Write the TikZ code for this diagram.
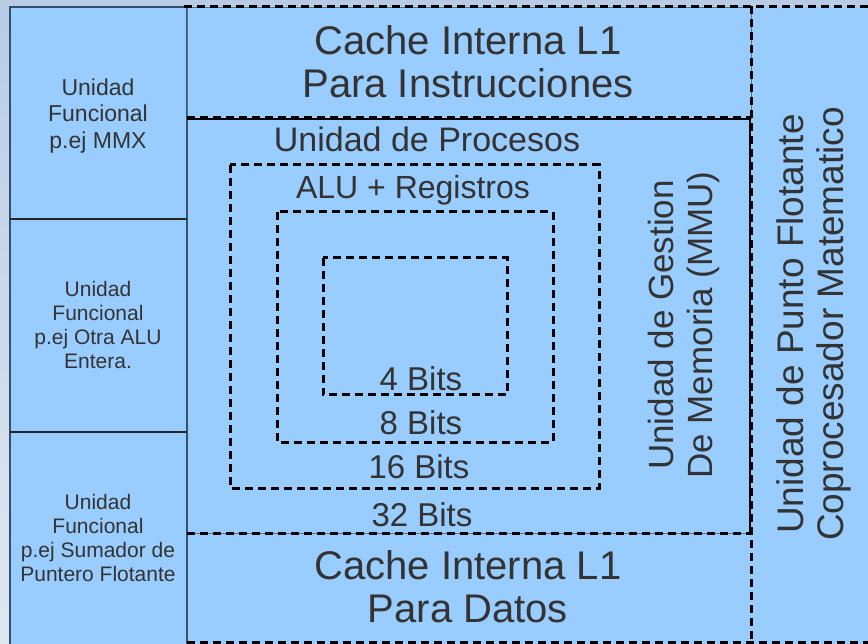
\documentclass[tikz,border=0pt]{standalone}
\usepackage{fontspec}
\setmainfont{Liberation Sans}
\definecolor{panel}{HTML}{99CCFF}
\definecolor{bgtop}{HTML}{B8CCE6}
\definecolor{bgbot}{HTML}{E1E7F1}
\definecolor{slate}{HTML}{34506C}
\definecolor{ink}{HTML}{333333}
\definecolor{thingray}{HTML}{5A7290}
\begin{document}
\begin{tikzpicture}[x=1pt,y=-1pt,
  dashline/.style={black,line width=3pt,dash pattern=on 8pt off 5pt},
  txt/.style={text=ink,inner sep=0pt,align=center},
  fnbig/.style={font=\fontsize{40}{43}\selectfont},
  fnmid/.style={font=\fontsize{34}{39}\selectfont},
  fnbits/.style={font=\fontsize{33}{36}\selectfont},
  fnside/.style={font=\fontsize{21}{24}\selectfont}]
\useasboundingbox (0,0) rectangle (868,644);
\shade[top color=bgtop,bottom color=bgbot] (0,0) rectangle (868,644);
\fill[panel] (10,7) rectangle (868,644);
% left column
\draw[slate,line width=1.6pt] (10,644) -- (10,7) -- (187,7) -- (187,644);
\draw[black!85,line width=1.2pt] (10,219) -- (187,219);
\draw[black!85,line width=1.2pt] (10,432) -- (187,432);
% thin box borders under dashes
\draw[thingray,line width=0.8pt] (187,7) rectangle (751,118);
\draw[thingray,line width=0.8pt] (187,533) -- (751,533);
% dashed frame lines
\draw[dashline] (184,6.5) -- (868,6.5);
\draw[dashline] (187,117.3) -- (751,117.3);
\draw[black,line width=2pt] (187,119.5) -- (750,119.5);
\draw[black,line width=1.5pt] (750,119) -- (750,533);
\draw[dashline] (751,6.5) -- (751,644);
\draw[dashline] (187,533.3) -- (751,533.3);
\draw[dashline] (187,642) -- (868,642);
% nested dashed boxes
\draw[dashline] (230,165) rectangle (599,488);
\draw[dashline] (277,212) rectangle (553,442);
\draw[dashline] (323,258) rectangle (507,395);
% texts
\node[txt,font=\fontsize{23}{26.5}\selectfont] (fu1) at (98,116) {Unidad\\Funcional\\p.ej MMX};
\node[txt,fnside] (fu2) at (98,325) {Unidad\\Funcional\\p.ej Otra ALU\\Entera.};
\node[txt,fnside] (fu3) at (98,538) {Unidad\\Funcional\\p.ej Sumador de\\Puntero Flotante};
\node[txt,fnbig] (ci) at (468,62) {Cache Interna L1\\Para Instrucciones};
\node[txt,fnbig] (cd) at (468,587) {Cache Interna L1\\Para Datos};
\node[txt,fnmid,anchor=base] (up) at (427,152) {Unidad de Procesos};
\node[txt,fnbits,font=\fontsize{32}{36}\selectfont,anchor=base] (alu) at (413,199) {ALU + Registros};
\node[txt,fnbits,anchor=base] (b4) at (421,391) {4 Bits};
\node[txt,fnbits,anchor=base] (b8) at (421,434) {8 Bits};
\node[txt,fnbits,anchor=base] (b16) at (419,478) {16 Bits};
\node[txt,fnbits,anchor=base] (b32) at (422,526) {32 Bits};
\node[txt,rotate=90,font=\fontsize{35}{39}\selectfont] (mmu) at (683.5,325) {Unidad de Gestion\\De Memoria (MMU)};
\node[txt,rotate=90,font=\fontsize{37}{40}\selectfont] (fpu) at (813.5,324) {Unidad de Punto Flotante\\Coprocesador Matematico};
\end{tikzpicture}
\end{document}
